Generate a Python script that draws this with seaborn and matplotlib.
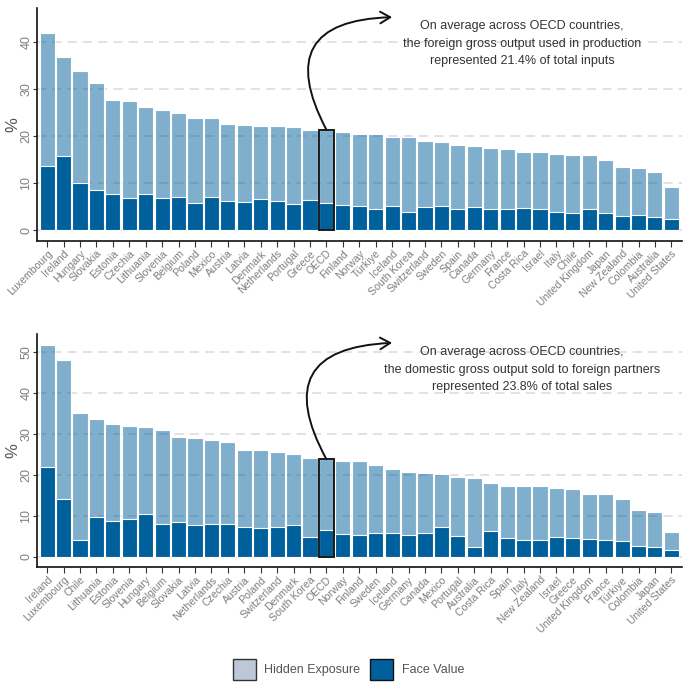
import matplotlib
matplotlib.use('Agg')
import matplotlib.pyplot as plt
from matplotlib.patches import Patch, Rectangle
from matplotlib.colors import to_rgba
import seaborn as sns
import pandas as pd

# --- panel 1: foreign gross output used in production (% of total inputs)
countries_in = ['Luxembourg', 'Ireland', 'Hungary', 'Slovakia', 'Estonia', 'Czechia',
                'Lithuania', 'Slovenia', 'Belgium', 'Poland', 'Mexico', 'Austria',
                'Latvia', 'Denmark', 'Netherlands', 'Portugal', 'Greece', 'OECD',
                'Finland', 'Norway', 'Türkiye', 'Iceland', 'South Korea', 'Switzerland',
                'Sweden', 'Spain', 'Canada', 'Germany', 'France', 'Costa Rica', 'Israel',
                'Italy', 'Chile', 'United Kingdom', 'Japan', 'New Zealand', 'Colombia',
                'Australia', 'United States']
total_in = [41.9, 36.9, 33.8, 31.4, 27.8, 27.4, 26.2, 25.5, 24.9, 23.8, 23.8, 22.6,
            22.3, 22.2, 22.2, 21.9, 21.4, 21.4, 21.0, 20.5, 20.5, 19.8, 19.8, 19.0,
            18.7, 18.1, 17.9, 17.5, 17.2, 16.7, 16.6, 16.3, 16.1, 16.1, 15.0, 13.5,
            13.2, 12.4, 9.3]
face_in = [13.7, 15.9, 10.1, 8.7, 7.7, 6.9, 7.7, 6.9, 7.1, 5.8, 7.2, 6.3,
           6.1, 6.7, 6.3, 5.7, 6.5, 5.9, 5.4, 5.3, 4.5, 5.2, 3.9, 4.9,
           5.1, 4.5, 4.9, 4.6, 4.6, 4.7, 4.5, 4.0, 3.8, 4.5, 3.7, 3.1,
           3.2, 2.8, 2.5]

# --- panel 2: domestic gross output sold to foreign partners (% of total sales)
countries_out = ['Ireland', 'Luxembourg', 'Chile', 'Lithuania', 'Estonia', 'Slovenia',
                 'Hungary', 'Belgium', 'Slovakia', 'Latvia', 'Netherlands', 'Czechia',
                 'Austria', 'Poland', 'Switzerland', 'Denmark', 'South Korea', 'OECD',
                 'Norway', 'Finland', 'Sweden', 'Iceland', 'Germany', 'Canada', 'Mexico',
                 'Portugal', 'Australia', 'Costa Rica', 'Spain', 'Italy', 'New Zealand',
                 'Israel', 'Greece', 'United Kingdom', 'France', 'Türkiye', 'Colombia',
                 'Japan', 'United States']
total_out = [51.6, 48.0, 35.1, 33.7, 32.4, 32.0, 31.6, 31.0, 29.1, 28.9, 28.4, 28.1,
             26.1, 26.1, 25.6, 25.1, 24.1, 23.8, 23.3, 23.3, 22.5, 21.5, 20.7, 20.4,
             20.2, 19.4, 19.2, 18.0, 17.2, 17.2, 17.2, 16.7, 16.6, 15.4, 15.3, 14.2,
             11.5, 10.9, 6.0]
face_out = [21.8, 14.1, 4.2, 9.8, 8.8, 9.3, 10.4, 8.1, 8.6, 7.7, 8.0, 7.9,
            7.2, 7.1, 7.2, 7.8, 4.9, 6.6, 5.6, 5.4, 5.9, 5.9, 5.4, 5.9,
            7.3, 5.2, 2.5, 6.3, 4.6, 4.2, 4.0, 4.9, 4.7, 4.4, 4.1, 3.9,
            2.7, 2.5, 1.6]

note_in = ('On average across OECD countries,\n'
           'the foreign gross output used in production\n'
           'represented 21.4% of total inputs')
note_out = ('On average across OECD countries,\n'
            'the domestic gross output sold to foreign partners\n'
            'represented 23.8% of total sales')

DARK = '#00609c'
TICK_GREY = '#7f7f7f'

sns.set_theme(style='white')
plt.rcParams['font.family'] = ['Liberation Sans', 'DejaVu Sans']


def draw_panel(ax, countries, total, face, note, ylim, yticks):
    df = pd.DataFrame({'country': countries, 'total': total, 'face': face})
    n = len(df)

    # light bar = total exposure, dark bar = face value on top
    sns.barplot(data=df, x='country', y='total', color=DARK, saturation=1,
                width=0.92, edgecolor='white', linewidth=0.8, ax=ax, zorder=2)
    for p in ax.patches[:n]:
        p.set_facecolor(to_rgba(DARK, 0.5))
    sns.barplot(data=df, x='country', y='face', color=DARK, saturation=1,
                width=0.92, edgecolor='white', linewidth=0.8, ax=ax, zorder=3)

    # outline the OECD average bar
    i = countries.index('OECD')
    bar = ax.patches[i]
    ax.add_patch(Rectangle((bar.get_x(), 0), bar.get_width(), total[i],
                           fill=False, edgecolor='#1a1a1a', linewidth=1.4, zorder=5))

    ax.set_ylim(*ylim)
    ax.set_xlim(-0.6, n - 0.37)
    ax.set_yticks(yticks)
    ax.grid(axis='y', color='#dadada', linestyle=(0, (6, 4)), linewidth=1.1)
    ax.set_axisbelow(True)

    ax.set_xlabel('')
    ax.set_ylabel('%', color='#555555', fontsize=12)
    ax.yaxis.set_label_coords(-0.026, 0.5)
    ax.tick_params(axis='x', length=4, width=0.8, color='#333333', labelcolor=TICK_GREY,
                   labelsize=7.6, pad=1.5, bottom=True)
    ax.tick_params(axis='y', length=3, width=0.8, color='#333333', labelcolor=TICK_GREY,
                   labelsize=9, pad=0.5, left=True)
    plt.setp(ax.get_xticklabels(), rotation=45, ha='right', rotation_mode='anchor')
    plt.setp(ax.get_yticklabels(), rotation=90, va='center')

    for side in ['top', 'right']:
        ax.spines[side].set_visible(False)
    for side in ['left', 'bottom']:
        ax.spines[side].set_color('#111111')
        ax.spines[side].set_linewidth(1.2)

    # curved arrow from the OECD bar to the note
    ax.annotate('', xy=(21.0, ylim[1] * 0.96), xytext=(i, total[i]),
                arrowprops=dict(arrowstyle='->,head_length=0.6,head_width=0.35',
                                color='#111111', lw=1.4,
                                connectionstyle='arc3,rad=-0.8',
                                shrinkA=0, shrinkB=0))
    ax.text(28.9, ylim[1] * 0.84, note, ha='center', va='center',
            fontsize=9, color='#333333', linespacing=1.6)


fig = plt.figure(figsize=(6.9, 6.9), dpi=100)
ax1 = fig.add_axes([0.054, 0.651, 0.934, 0.337])
ax2 = fig.add_axes([0.054, 0.178, 0.934, 0.338])

draw_panel(ax1, countries_in, total_in, face_in, note_in, (-2.2, 47.2), [0, 10, 20, 30, 40])
draw_panel(ax2, countries_out, total_out, face_out, note_out, (-2.5, 54.3), [0, 10, 20, 30, 40, 50])

handles = [Patch(facecolor='#bcc8d8', edgecolor='#333333', linewidth=1.0, label='Hidden Exposure'),
           Patch(facecolor=DARK, edgecolor='#111111', linewidth=1.0, label='Face Value')]
fig.legend(handles=handles, loc='center', bbox_to_anchor=(0.505, 0.03), ncol=2,
           frameon=False, fontsize=9, labelcolor='#555555',
           handlelength=1.8, handleheight=2.2, columnspacing=0.8, handletextpad=0.7)

fig.savefig('out.png', dpi=100, facecolor='white')
